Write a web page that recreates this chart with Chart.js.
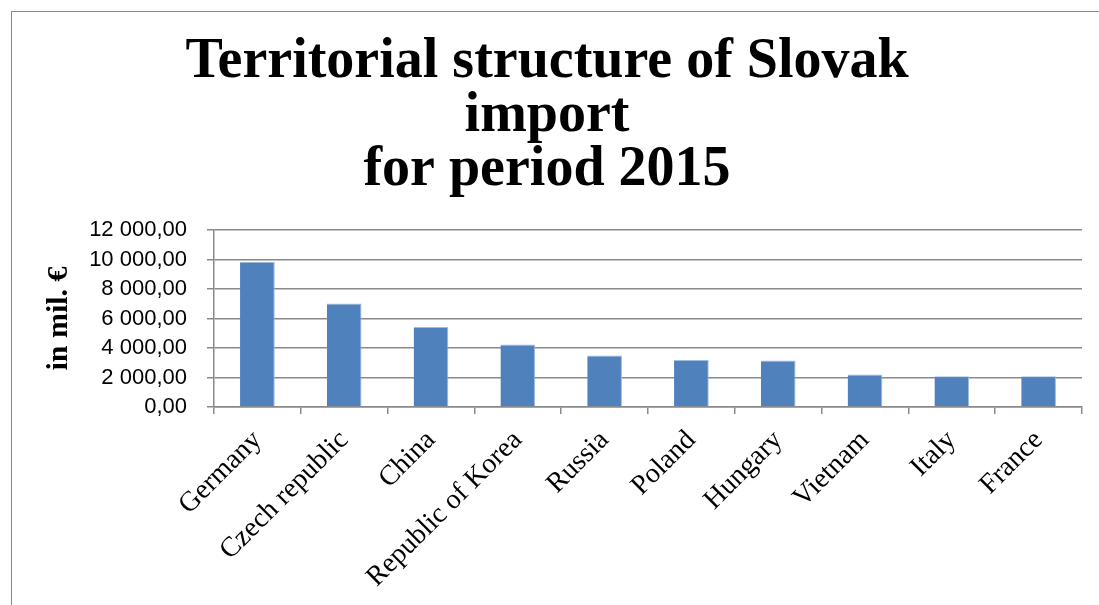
<!DOCTYPE html>
<html>
<head>
<meta charset="utf-8">
<script src="https://cdn.jsdelivr.net/npm/chart.js@4/dist/chart.umd.min.js"></script>
<style>
    html, body { margin: 0; padding: 0; background: #fff; overflow: hidden; }
    #frame {
        position: absolute; left: 11px; top: 11px; width: 1200px; height: 700px;
        border-left: 1.5px solid #8a8a8a; border-top: 1.5px solid #8a8a8a;
    }
    #wrap { position: absolute; left: 12px; top: 12px; width: 1100px; height: 593px; }
</style>
</head>
<body>
<div id="frame"></div>
<div id="wrap"><canvas id="importChart"></canvas></div>
<script>
// Data
const countries = ['Germany', 'Czech republic', 'China', 'Republic of Korea', 'Russia',
    'Poland', 'Hungary', 'Vietnam', 'Italy', 'France'];
const importValues = [9840, 7010, 5420, 4240, 3500, 3180, 3160, 2200, 2090, 2090];
const yTickLabels = ['0,00', '2 000,00', '4 000,00', '6 000,00', '8 000,00', '10 000,00', '12 000,00'];
const chartTitle = ['Territorial structure of Slovak', 'import', 'for period 2015'];
const yAxisTitle = 'in mil. €';

const gridColor = '#8a8a8a';

document.addEventListener('DOMContentLoaded', () => {
    const ctx = document.getElementById('importChart');
    new Chart(ctx, {
        type: 'bar',
        data: {
            labels: countries,
            datasets: [{
                label: 'Import',
                data: importValues,
                backgroundColor: '#4f81bd',
                borderColor: '#9fbbe0',
                borderWidth: { top: 1, right: 1, left: 0, bottom: 0 },
                barPercentage: 0.4,
                categoryPercentage: 1
            }]
        },
        options: {
            responsive: true,
            maintainAspectRatio: false,
            animation: false,
            layout: { padding: { left: 0, right: 30, top: 0, bottom: 0 } },
            plugins: {
                legend: { display: false },
                tooltip: { enabled: false },
                title: {
                    display: true,
                    text: chartTitle,
                    color: '#000',
                    font: { family: '"Liberation Serif", serif', size: 56, weight: 'bold', lineHeight: 54 / 56 },
                    padding: { top: 24, bottom: 32 }
                }
            },
            scales: {
                x: {
                    grid: {
                        display: true,
                        drawOnChartArea: false,
                        drawTicks: true,
                        tickLength: 7,
                        color: gridColor,
                        lineWidth: 1.5
                    },
                    border: { color: gridColor, width: 1.5 },
                    ticks: {
                        color: '#000',
                        autoSkip: false,
                        minRotation: 45,
                        maxRotation: 45,
                        padding: 10,
                        font: { family: '"Liberation Serif", serif', size: 28 }
                    },
                    afterFit: function(scale) {
                        scale.height = 198;
                    }
                },
                y: {
                    min: 0,
                    max: 12000,
                    grid: {
                        color: gridColor,
                        lineWidth: 1.5,
                        tickLength: 7
                    },
                    border: { color: gridColor, width: 1.5 },
                    ticks: {
                        stepSize: 2000,
                        color: '#000',
                        padding: 20,
                        font: { family: '"Liberation Sans", sans-serif', size: 22 },
                        callback: function(value) {
                            return yTickLabels[Math.round(value / 2000)];
                        }
                    },
                    title: {
                        display: true,
                        text: yAxisTitle,
                        color: '#000',
                        font: { family: '"Liberation Serif", serif', size: 30, weight: 'bold' },
                        padding: { top: 29, bottom: 0 }
                    },
                    afterFit: function(scale) {
                        scale.width = 202;
                    }
                }
            }
        }
    });
});
</script>
</body>
</html>
